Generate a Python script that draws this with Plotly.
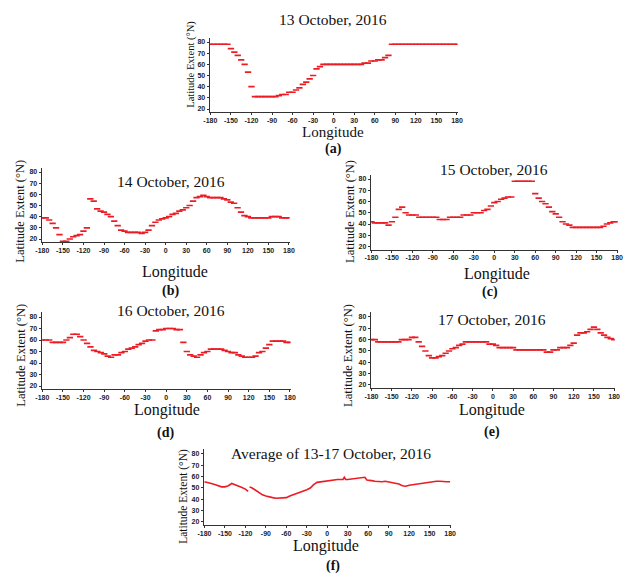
import plotly.graph_objects as go

# ---------------- data ----------------
LON = list(range(-180, 181, 5))
X_TICKS = [-180, -150, -120, -90, -60, -30, 0, 30, 60, 90, 120, 150, 180]
Y_TICKS = [20, 30, 40, 50, 60, 70, 80]

LAT_13 = [78, 78, 78, 78, 78, 78,
          74, 71, 68, 64, 60, 53,
          40, 31, 31, 31, 31, 31,
          31, 31, 32, 33, 33, 35,
          35, 37, 39, 42, 44, 47,
          50, 56, 58, 60, 60, 60,
          60, 60, 60, 60, 60, 60,
          60, 60, 60, 61, 61, 63,
          63, 64, 64, 66, 68, 78,
          78, 78, 78, 78, 78, 78,
          78, 78, 78, 78, 78, 78,
          78, 78, 78, 78, 78, 78,
          78]

LAT_14 = [39, 39, 37, 34, 30, 24,
          18, 18, 20, 22, 23, 24,
          27, 30, 56, 54, 47, 45,
          44, 42, 40, 36, 32, 28,
          27, 26, 26, 26, 26, 25,
          26, 28, 32, 35, 37, 38,
          39, 40, 42, 43, 45, 46,
          48, 50, 54, 57, 58, 59,
          58, 57, 57, 57, 57, 56,
          55, 53, 52, 48, 44, 41,
          40, 39, 39, 39, 39, 39,
          39, 40, 40, 40, 39, 39,
          39]

LAT_15 = [42, 41, 41, 41, 41, 39,
          42, 46, 53, 55, 50, 48,
          48, 48, 46, 46, 46, 46,
          46, 46, 44, 44, 44, 46,
          46, 46, 46, 48, 48, 48,
          50, 50, 50, 52, 53, 56,
          59, 60, 62, 63, 64, 64,
          78, 78, 78, 78, 78, 78,
          67, 63, 60, 58, 55, 51,
          49, 46, 42, 40, 39, 37,
          37, 37, 37, 37, 37, 37,
          37, 37, 38, 40, 41, 42,
          42]

LAT_16 = [60, 60, 60, 58, 58, 58,
          58, 60, 62, 65, 65, 63,
          60, 57, 54, 51, 50, 49,
          48, 46, 45, 47, 47, 49,
          50, 52, 53, 54, 56, 57,
          59, 60, 60, 68, 69, 69,
          70, 70, 70, 69, 69, 58,
          50, 47, 46, 45, 47, 49,
          50, 52, 52, 52, 52, 51,
          50, 49, 49, 47, 46, 45,
          45, 45, 46, 49, 50, 53,
          56, 59, 59, 59, 59, 58,
          58]

LAT_17 = [60, 60, 58, 58, 58, 58,
          58, 58, 58, 60, 60, 60,
          62, 62, 58, 54, 50, 46,
          44, 44, 45, 46, 48, 50,
          52, 53, 55, 56, 58, 58,
          58, 58, 58, 58, 58, 56,
          56, 55, 53, 53, 53, 53,
          53, 51, 51, 51, 51, 51,
          51, 51, 51, 51, 49, 49,
          51, 51, 53, 53, 53, 55,
          57, 64, 66, 66, 67, 69,
          71, 69, 66, 64, 62, 61,
          60]

AVG_LON = [-180, -175, -170, -165, -160, -155, -150, -145, -140, -135, -130, -125,
           -120, -116, -115, -114, -110, -105, -100, -95, -90, -85, -80, -75,
           -70, -65, -60, -55, -50, -45, -40, -35, -30, -25, -20, -15,
           -10, -5, 0, 5, 10, 15, 20, 23, 25, 27, 30, 35,
           40, 45, 50, 55, 58, 60, 65, 70, 75, 80, 85, 90,
           95, 100, 105, 110, 115, 120, 125, 130, 135, 140, 145, 150,
           155, 160, 165, 170, 175, 180]
AVG_LAT = [55.5, 55, 54, 53, 52, 51, 51, 52, 54, 53, 51.5, 50.5,
           49, 47, None, 51, 50, 48, 46, 44, 43, 42, 41.5, 41,
           41, 41, 41.5, 43, 44, 45.5, 46.5, 47.5, 48.5, 50, 53, 55,
           55.5, 56, 56.5, 57, 57, 57.5, 57.5, 57.5, 59.5, 57.5, 57.5, 58,
           58, 58.5, 59, 59.5, 57, 57, 56.5, 56, 55.5, 55.5, 56, 55.5,
           55, 54, 53.5, 52, 51.5, 52.5, 53, 53.5, 54, 54.5, 55, 55.5,
           56, 56, 56, 55.5, 55.5, 55.5]

TITLES = ["13 October, 2016", "14 October, 2016", "15 October, 2016",
          "16 October, 2016", "17 October, 2016", "Average of 13-17 October, 2016"]
LABELS = ["(a)", "(b)", "(c)", "(d)", "(e)", "(f)"]

# ---------------- layout helpers ----------------
W, H = 629, 576
RED = "#ec1c24"
XR = (-181, 181)
YR = (17, 84)
SERIF = "Liberation Serif, Times New Roman, serif"
SANS = "Liberation Sans Narrow, Liberation Sans, Arial, sans-serif"

# pixel geometry of each panel: x(-180), x(180), y(80), y(20)
GEOM = [(208, 459, 42, 109),
        (37, 288, 172, 239),
        (372, 622, 179, 246.5),
        (37, 289, 317, 386),
        (372, 619, 317, 385),
        (202, 452, 454, 522)]

# annotation positions (px): title, Longitude (pos, size), label, y-title, y-title size
TXT = [((333, 20), (333, 132), 15, (333, 149), (188, 64), 10.5),
       ((168, 181), (172, 272), 16, (167, 291), (14, 211), 12.5),
       ((497, 170), (500, 274), 16, (493, 292), (350, 211), 12.5),
       ((168, 310), (164, 410), 16, (162, 433), (15, 355), 12.5),
       ((495, 319), (495, 410), 16, (495, 432), (348, 355), 12.5),
       ((331, 453), (326, 546), 16, (333, 566), (180, 496), 11.5)]


def domains(g):
    xl, xr, y80, y20 = g
    ppd = (xr - xl) / 360.0
    x0 = xl + (XR[0] + 180) * ppd
    x1 = xl + (XR[1] + 180) * ppd
    ppu = (y20 - y80) / 60.0
    ytop = y80 - (YR[1] - 80) * ppu
    ybot = y20 + (20 - YR[0]) * ppu
    return [x0 / W, x1 / W], [1 - ybot / H, 1 - ytop / H]


def ann(text, pos, size, family=SERIF, bold=False, angle=0):
    return dict(text=text, x=pos[0] / W, y=1 - pos[1] / H, xref="paper", yref="paper",
                xanchor="center", yanchor="middle", showarrow=False, textangle=angle,
                font=dict(family=family, size=size, color="#111",
                          weight="bold" if bold else "normal"))


fig = go.Figure()
series = [LAT_13, LAT_14, LAT_15, LAT_16, LAT_17]
layout = {}
annotations = []

for i in range(6):
    n = "" if i == 0 else str(i + 1)
    if i < 5:
        fig.add_trace(go.Scatter(
            x=LON, y=series[i], mode="markers", xaxis="x" + n, yaxis="y" + n,
            marker=dict(symbol="line-ew", size=4.5, color=RED,
                        line=dict(color=RED, width=1.7)),
            hoverinfo="x+y", showlegend=False))
    else:
        fig.add_trace(go.Scatter(
            x=AVG_LON, y=AVG_LAT, mode="lines", xaxis="x" + n, yaxis="y" + n,
            line=dict(color=RED, width=1.6), connectgaps=False,
            hoverinfo="x+y", showlegend=False))
    xd, yd = domains(GEOM[i])
    tickfont = dict(family=SANS, size=7, color="#222", weight="bold")
    layout["xaxis" + n] = dict(domain=xd, anchor="y" + n, range=list(XR),
                               tickmode="array", tickvals=X_TICKS,
                               ticktext=[str(v) for v in X_TICKS],
                               showline=True, linecolor="#333", linewidth=1,
                               ticks="outside", ticklen=2, tickcolor="#333",
                               ticklabelstandoff=-1,
                               showgrid=False, zeroline=False, tickfont=tickfont)
    layout["yaxis" + n] = dict(domain=yd, anchor="x" + n, range=list(YR),
                               tickmode="array", tickvals=Y_TICKS,
                               showline=True, linecolor="#333", linewidth=1,
                               ticks="outside", ticklen=2, tickcolor="#333",
                               showgrid=False, zeroline=False, tickfont=tickfont)
    tpos, lpos, lsize, labpos, ypos, ysize = TXT[i]
    annotations.append(ann(TITLES[i], tpos, 15.5))
    annotations.append(ann("Longitude", lpos, lsize))
    annotations.append(ann(LABELS[i], labpos, 14, bold=True))
    annotations.append(ann("Latitude Extent (°N)", ypos, ysize, angle=-90))

fig.update_layout(width=W, height=H, margin=dict(l=0, r=0, t=0, b=0),
                  paper_bgcolor="white", plot_bgcolor="white",
                  annotations=annotations, **layout)

fig.write_html("out.html", config={"displayModeBar": False},
               post_script="document.body.style.margin='0';document.body.style.overflow='hidden';")
